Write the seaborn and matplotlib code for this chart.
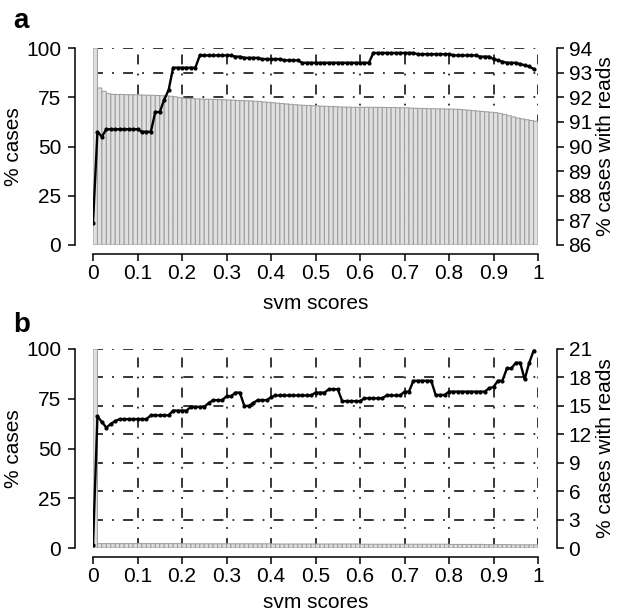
import numpy as np
import pandas as pd
import matplotlib
matplotlib.use("Agg")
import matplotlib.pyplot as plt
import seaborn as sns

# svm score of each bin (left edge), 0.00 .. 0.99
scores = np.arange(100) / 100

x_ticks = [0, 0.1, 0.2, 0.3, 0.4, 0.5, 0.6, 0.7, 0.8, 0.9, 1]
x_labels = ["0", "0.1", "0.2", "0.3", "0.4", "0.5", "0.6", "0.7", "0.8", "0.9", "1"]
left_ticks = [0, 25, 50, 75, 100]

# panel a: % cases (bars) and % cases with reads (line)
cases_a = [100, 79.7, 78.0, 76.8, 76.5, 76.4, 76.4, 76.3, 76.3, 76.2,
           76.2, 76.1, 76.0, 76.0, 75.9, 75.8, 75.7, 75.5, 75.2, 74.8,
           74.5, 74.4, 74.3, 74.2, 74.1, 74.0, 74.0, 73.9, 73.8, 73.7,
           73.6, 73.5, 73.4, 73.3, 73.2, 73.1, 73.0, 72.8, 72.6, 72.4,
           72.2, 72.0, 71.8, 71.6, 71.4, 71.2, 71.0, 70.9, 70.8, 70.7,
           70.6, 70.5, 70.4, 70.3, 70.2, 70.1, 70.0, 70.0, 69.9, 69.9,
           69.9, 69.9, 69.9, 69.9, 69.9, 69.8, 69.8, 69.8, 69.7, 69.7,
           69.6, 69.5, 69.4, 69.3, 69.3, 69.2, 69.2, 69.1, 69.1, 69.0,
           69.0, 68.9, 68.8, 68.6, 68.4, 68.2, 68.0, 67.8, 67.6, 67.4,
           67.2, 66.8, 66.2, 65.6, 65.0, 64.4, 64.0, 63.6, 63.2, 62.8]
reads_a = [86.9, 90.6, 90.4, 90.7, 90.7, 90.7, 90.7, 90.7, 90.7, 90.7,
           90.7, 90.6, 90.6, 90.6, 91.4, 91.4, 91.9, 92.3, 93.2, 93.2,
           93.2, 93.2, 93.2, 93.2, 93.7, 93.7, 93.7, 93.7, 93.7, 93.7,
           93.7, 93.7, 93.65, 93.65, 93.6, 93.6, 93.6, 93.6, 93.55, 93.55,
           93.55, 93.55, 93.55, 93.5, 93.5, 93.5, 93.5, 93.4, 93.4, 93.4,
           93.4, 93.4, 93.4, 93.4, 93.4, 93.4, 93.4, 93.4, 93.4, 93.4,
           93.4, 93.4, 93.4, 93.8, 93.8, 93.8, 93.8, 93.8, 93.8, 93.8,
           93.8, 93.8, 93.8, 93.75, 93.75, 93.75, 93.75, 93.75, 93.75, 93.75,
           93.75, 93.7, 93.7, 93.7, 93.7, 93.7, 93.7, 93.65, 93.65, 93.65,
           93.55, 93.5, 93.45, 93.4, 93.4, 93.4, 93.35, 93.3, 93.25, 93.15]
right_ticks_a = [86, 87, 88, 89, 90, 91, 92, 93, 94]

# panel b
cases_b = [100, 2.2, 2.2, 2.2, 2.2, 2.2, 2.2, 2.2, 2.2, 2.2,
           2.2, 2.2, 2.2, 2.2, 2.2, 2.2, 2.2, 2.2, 2.2, 2.2,
           2.1, 2.1, 2.1, 2.1, 2.1, 2.1, 2.1, 2.1, 2.1, 2.1,
           2.1, 2.1, 2.1, 2.1, 2.1, 2.1, 2.1, 2.1, 2.1, 2.1,
           2.0, 2.0, 2.0, 2.0, 2.0, 2.0, 2.0, 2.0, 2.0, 2.0,
           2.0, 2.0, 2.0, 2.0, 2.0, 2.0, 2.0, 2.0, 2.0, 2.0,
           1.9, 1.9, 1.9, 1.9, 1.9, 1.9, 1.9, 1.9, 1.9, 1.9,
           1.9, 1.9, 1.9, 1.9, 1.9, 1.9, 1.9, 1.9, 1.9, 1.9,
           1.8, 1.8, 1.8, 1.8, 1.8, 1.8, 1.8, 1.8, 1.7, 1.7,
           1.7, 1.7, 1.7, 1.7, 1.6, 1.6, 1.6, 1.6, 1.6, 1.6]
reads_b = [0.3, 13.9, 13.3, 12.7, 13.1, 13.4, 13.6, 13.6, 13.6, 13.6,
           13.6, 13.6, 13.6, 14.0, 14.0, 14.0, 14.0, 14.0, 14.5, 14.5,
           14.5, 14.5, 14.9, 14.9, 14.9, 14.9, 15.3, 15.6, 15.6, 15.6,
           16.0, 16.0, 16.4, 16.4, 15.0, 15.0, 15.3, 15.6, 15.6, 15.6,
           15.9, 16.1, 16.1, 16.1, 16.1, 16.1, 16.1, 16.1, 16.1, 16.1,
           16.4, 16.4, 16.4, 16.75, 16.75, 16.75, 15.5, 15.5, 15.5, 15.5,
           15.5, 15.8, 15.8, 15.8, 15.8, 15.8, 16.1, 16.1, 16.1, 16.1,
           16.5, 16.5, 17.65, 17.65, 17.65, 17.65, 17.65, 16.15, 16.15, 16.15,
           16.5, 16.5, 16.5, 16.5, 16.5, 16.5, 16.5, 16.5, 16.5, 16.85,
           17.0, 17.65, 17.65, 18.95, 18.95, 19.55, 19.55, 17.8, 19.5, 20.8]
right_ticks_b = [0, 3, 6, 9, 12, 15, 18, 21]

sns.set_style("ticks")
plt.rcParams["font.family"] = ["Liberation Sans", "DejaVu Sans"]
plt.rcParams["font.size"] = 15
for key in ("text.color", "axes.labelcolor", "xtick.color", "ytick.color"):
    plt.rcParams[key] = "black"

fig = plt.figure(figsize=(6.2, 6.12), dpi=100)

GRID_STYLE = dict(color="black", lw=1.1, linestyle=(0, (6.5, 6, 1.2, 6)), zorder=0)


def panel(rect, cases, reads, right_ticks, letter, letter_y, xpad):
    ax = fig.add_axes(rect)
    lo, hi = right_ticks[0], right_ticks[-1]

    # dash-dot grid, behind the bars
    for xv in x_ticks[1:]:
        ax.axvline(xv, **GRID_STYLE)
    for rv in right_ticks[1:]:
        ax.axhline((rv - lo) / (hi - lo) * 100, **GRID_STYLE)

    df = pd.DataFrame({"mid": scores + 0.005, "cases": cases})
    sns.histplot(data=df, x="mid", weights="cases", bins=100,
                 binrange=(0, 1), ax=ax, color="#e0e0e0",
                 edgecolor="#9e9e9e", linewidth=0.75, alpha=1, zorder=2,
                 snap=False)
    ax.set_xlim(0, 1)
    ax.set_ylim(0, 100)
    ax.set_xticks(x_ticks)
    ax.set_xticklabels(x_labels)
    ax.set_yticks(left_ticks)
    ax.set_xlabel("svm scores", labelpad=xpad)
    ax.set_ylabel("% cases", labelpad=2)

    ax2 = ax.twinx()
    sns.lineplot(x=scores, y=reads, ax=ax2, color="black", lw=1.7,
                 marker="o", markersize=3, markeredgewidth=0)
    ax2.set_ylim(lo, hi)
    ax2.set_yticks(right_ticks)
    ax2.set_ylabel("% cases with reads", labelpad=3)

    for a in (ax, ax2):
        a.spines["top"].set_visible(False)
        a.tick_params(length=5, width=1.1, labelsize=15, colors="black")
    ax.spines["right"].set_visible(False)
    ax2.spines["left"].set_visible(False)
    ax2.spines["bottom"].set_visible(False)
    ax.spines["left"].set_position(("outward", 13))
    ax.spines["bottom"].set_position(("outward", 6.5))
    ax2.spines["right"].set_position(("outward", 14))
    ax.spines["left"].set_bounds(0, 100)
    ax.spines["bottom"].set_bounds(0, 1)
    ax2.spines["right"].set_bounds(lo, hi)
    for s in (ax.spines["left"], ax.spines["bottom"], ax2.spines["right"]):
        s.set_linewidth(1.1)
        s.set_color("black")
    ax.tick_params(axis="x", pad=2)
    ax.tick_params(axis="y", pad=5)
    ax2.tick_params(axis="y", pad=3)
    fig.text(13 / 620, letter_y, letter, fontsize=20, fontweight="bold",
             va="baseline", ha="left")
    return ax, ax2


panel([93 / 620, 367 / 612, 445 / 620, 197 / 612], cases_a, reads_a,
      right_ticks_a, "a", 1 - 28 / 612, 8)
panel([93 / 620, 64 / 612, 445 / 620, 199 / 612], cases_b, reads_b,
      right_ticks_b, "b", 1 - 332 / 612, 5)

fig.savefig("out.png", dpi=100)
